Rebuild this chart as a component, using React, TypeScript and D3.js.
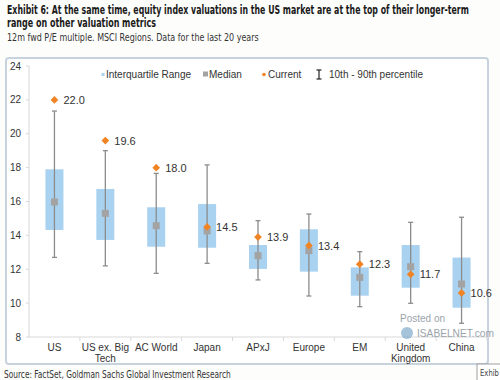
import React, { useLayoutEffect, useRef } from "react";
import * as d3 from "d3";

const categories = ["US", "US ex. Big Tech", "AC World", "Japan", "APxJ", "Europe", "EM", "United Kingdom", "China"];
const categoryLines = [["US"], ["US ex. Big", "Tech"], ["AC World"], ["Japan"], ["APxJ"], ["Europe"], ["EM"], ["United", "Kingdom"], ["China"]];
const p10 = [12.7, 12.2, 11.76, 12.35, 11.37, 10.42, 9.79, 9.99, 8.81];
const p25 = [14.32, 13.73, 13.33, 13.27, 12.02, 11.86, 10.44, 10.91, 9.73];
const median = [15.97, 15.3, 14.57, 14.26, 12.8, 13.1, 11.52, 12.15, 11.13];
const p75 = [17.9, 16.74, 15.66, 15.85, 13.43, 14.36, 12.11, 13.43, 12.69];
const p90 = [21.34, 19.0, 17.66, 18.16, 14.87, 15.26, 13.04, 14.77, 15.07];
const current = [22.0, 19.6, 18.0, 14.5, 13.9, 13.4, 12.3, 11.7, 10.6];
const yTicks = [8, 10, 12, 14, 16, 18, 20, 22, 24];

const BOX = "#a9d2f1";
const MED = "#a3a3a3";
const CUR = "#f08424";
const WHISK = "#8c8c8c";
const TXT = "#333";

function FitText(props: { x: number; y: number; width: number; children: string; [k: string]: any }) {
  const { x, y, width, children, ...rest } = props;
  const ref = useRef<SVGTextElement>(null);
  const gref = useRef<SVGGElement>(null);
  useLayoutEffect(() => {
    if (ref.current && gref.current) {
      const w = ref.current.getComputedTextLength();
      const s = w > 0 ? width / w : 1;
      gref.current.setAttribute("transform", `translate(${x},${y}) scale(${s},1)`);
    }
  }, [x, y, width, children]);
  return (
    <g ref={gref} transform={`translate(${x},${y})`}>
      <text ref={ref} x={0} y={0} {...rest}>{children}</text>
    </g>
  );
}

export default function App() {
  const W = 500, H = 380;
  const y = d3.scaleLinear().domain([8, 24]).range([337, 66]);
  const x = d3.scaleBand().domain(categories).range([29, 487]);
  const bw = 18;
  const diamond = d3.symbol().type(d3.symbolDiamond2).size(38)();
  const font = "Arial, 'Liberation Sans', sans-serif";
  const tFont = "'Liberation Sans Narrow', 'DejaVu Sans Condensed', Arial, sans-serif";

  return (
    <svg width={W} height={H} style={{ position: "absolute", left: 0, top: 0, background: "#fff" }}>
      <rect x={0} y={0} width={W} height={H} fill="#fdfdfb" />
      <FitText x={7} y={13.5} width={462} fontFamily={tFont} fontWeight="bold" fontSize={11.6} fill="#1a1a1a">
        Exhibit 6: At the same time, equity index valuations in the US market are at the top of their longer-term
      </FitText>
      <FitText x={7} y={27} width={149} fontFamily={tFont} fontWeight="bold" fontSize={11.6} fill="#1a1a1a">
        range on other valuation metrics
      </FitText>
      <FitText x={7} y={41} width={252} fontFamily={tFont} fontSize={10} fill="#333">
        12m fwd P/E multiple. MSCI Regions. Data for the last 20 years
      </FitText>

      <rect x={6} y={58} width={482} height={306} rx={3} fill="#fff" stroke="#c6d3df" strokeWidth={2} />

      {/* y axis */}
      <line x1={29} x2={29} y1={66} y2={337} stroke="#d9d9d9" />
      {yTicks.map((t) => (
        <g key={t}>
          <line x1={26} x2={29} y1={y(t)} y2={y(t)} stroke="#d9d9d9" />
          <text x={21} y={y(t) + 3.5} textAnchor="end" fontFamily={font} fontSize={10} fill={TXT}>{t}</text>
        </g>
      ))}
      {/* x axis */}
      <line x1={29} x2={487} y1={337} y2={337} stroke="#d9d9d9" />
      {categories.map((c) => (
        <line key={"t" + c} x1={x(c)! + x.bandwidth()} x2={x(c)! + x.bandwidth()} y1={337} y2={341} stroke="#d9d9d9" />
      ))}
      {categories.map((c, i) => (
        <text key={"l" + c} textAnchor="middle" fontFamily={font} fontSize={10} fill={TXT}>
          {categoryLines[i].map((ln, j) => (
            <tspan key={j} x={x(c)! + x.bandwidth() / 2} y={351 + j * 10.5}>{ln}</tspan>
          ))}
        </text>
      ))}

      {/* watermark */}
      <text x={400} y={322} fontFamily={font} fontSize={10} fill="#9aa3ab">Posted on</text>
      <circle cx={407} cy={333} r={6} fill="#7fa9c9" opacity={0.7} />
      <FitText x={417} y={337} width={77} fontFamily={font} fontSize={10.5} fill="#9aa3ab">ISABELNET.com</FitText>

      {/* boxes */}
      {categories.map((c, i) => {
        const cx = x(c)! + x.bandwidth() / 2;
        return (
          <g key={"b" + c}>
            <rect x={cx - bw / 2} y={y(p75[i])} width={bw} height={y(p25[i]) - y(p75[i])} fill={BOX} />
            <line x1={cx} x2={cx} y1={y(p90[i])} y2={y(p10[i])} stroke={WHISK} strokeWidth={1.3} />
            <line x1={cx - 2.5} x2={cx + 2.5} y1={y(p90[i])} y2={y(p90[i])} stroke={WHISK} strokeWidth={1.3} />
            <line x1={cx - 2.5} x2={cx + 2.5} y1={y(p10[i])} y2={y(p10[i])} stroke={WHISK} strokeWidth={1.3} />
            <rect x={cx - 3.5} y={y(median[i]) - 3.5} width={7} height={7} fill={MED} />
            <path d={diamond} transform={`translate(${cx},${y(current[i])})`} fill={CUR} />
            <text x={cx + 9} y={y(current[i]) + 4} fontFamily={font} fontSize={11} fill={TXT}>{current[i].toFixed(1)}</text>
          </g>
        );
      })}

      {/* legend */}
      <rect x={101.5} y={73} width={3} height={3} fill={BOX} />
      <text x={106} y={78} fontFamily={font} fontSize={10} fill={TXT}>Interquartile Range</text>
      <rect x={203} y={71.5} width={5} height={5} fill={MED} />
      <text x={209} y={78} fontFamily={font} fontSize={10} fill={TXT}>Median</text>
      <circle cx={264} cy={74.5} r={1.8} fill={CUR} />
      <text x={268} y={78} fontFamily={font} fontSize={10} fill={TXT}>Current</text>
      <g stroke="#222" strokeWidth={1.2}>
        <line x1={319} x2={319} y1={70} y2={79} />
        <line x1={316.5} x2={321.5} y1={70} y2={70} />
        <line x1={316.5} x2={321.5} y1={79} y2={79} />
      </g>
      <text x={329} y={78} fontFamily={font} fontSize={10} fill={TXT}>10th - 90th percentile</text>

      <FitText x={4} y={378} width={227} fontFamily={tFont} fontSize={10} fill="#333">
        Source: FactSet, Goldman Sachs Global Investment Research
      </FitText>
      <rect x={477} y={364} width={30} height={20} fill="#fff" stroke="#888" strokeWidth={0.8} />
      <FitText x={480} y={376} width={19} fontFamily={tFont} fontSize={8.5} fill="#444">Exhib</FitText>
    </svg>
  );
}
